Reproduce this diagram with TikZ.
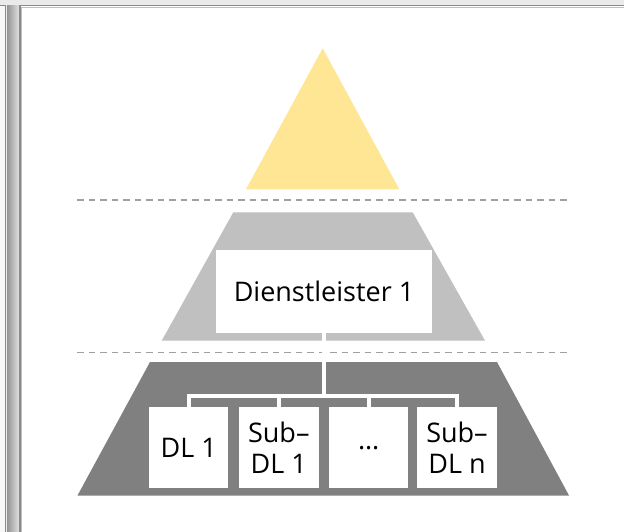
\documentclass[tikz,border=0pt]{standalone}
\usepackage{fontspec}
\setmainfont{Open Sans}
\usetikzlibrary{calc}

\definecolor{topyellow}{HTML}{FEE694}
\definecolor{midgray}{HTML}{C0C0C0}
\definecolor{lowgray}{HTML}{808080}
\definecolor{guidegray}{HTML}{A0A0A0}
\definecolor{framegray}{HTML}{8A8A8A}
\definecolor{chromegray}{HTML}{EAEAEA}

\tikzset{
  levelbox/.style={fill=white, draw=none, inner sep=0pt, align=center,
    font=\fontsize{27}{30.7}\selectfont},
  guideline/.style={draw=guidegray, line width=1.5pt, dash pattern=on 6.5pt off 5pt},
  link/.style={draw=white, line width=4pt},
}

\begin{document}
\begin{tikzpicture}[x=1pt, y=-1pt]
  \useasboundingbox (0,0) rectangle (624,532);

  % window chrome
  \fill[chromegray] (0,0) rectangle (624,532);
  \fill[white!97!black] (0,6) rectangle (6,532);
  \shade[left color=black!42, right color=black!12] (7,6) rectangle (19,532);
  \fill[white] (20,6) rectangle (624,532);
  \draw[framegray, line width=1.3pt] (5.5,532) -- (5.5,5.5) -- (0,5.5);
  \draw[framegray, line width=1.6pt] (19.8,532) -- (19.8,5.6) -- (624,5.6);
  \draw[black!25, line width=0.6pt] (21.2,532) -- (21.2,6.9) -- (624,6.9);

  % pyramid levels
  \fill[topyellow] (322.7,48.3) -- (399.3,189.3) -- (246,189.3) -- cycle;
  \fill[midgray] (233.3,212.3) -- (412.7,212.3) -- (485,340.7) -- (161.7,340.7) -- cycle;
  \fill[lowgray] (150,362) -- (497,362) -- (569,495.5) -- (77.5,495.5) -- cycle;

  % level separators
  \path[guideline] (77,200) -- (568,200);
  \path[guideline] (77,352.5) -- (568,352.5);

  % boxes
  \node[levelbox, minimum width=216pt, minimum height=82.7pt] (dl) at (324,291.3) {Dienstleister 1};
  \node[levelbox, minimum width=79.5pt, minimum height=81pt] (b1) at (188.7,447.8) {DL 1};
  \node[levelbox, minimum width=79.5pt, minimum height=81pt] (b2) at (278.8,447.8) {Sub–\\DL 1};
  \node[levelbox, minimum width=79.5pt, minimum height=81pt] (b3) at (368.7,447.8) {…};
  \node[levelbox, minimum width=79.5pt, minimum height=81pt] (b4) at (457,447.8) {Sub–\\DL n};

  % connectors
  \coordinate (bus) at (323,395.7);
  \path[link] (dl.south) -- (dl.south |- bus);
  \path[link, line join=miter] (b1.north) -- (b1.north |- bus) -- (b4.north |- bus) -- (b4.north);
  \path[link] (b2.north) -- (b2.north |- bus);
  \path[link] (b3.north) -- (b3.north |- bus);
\end{tikzpicture}
\end{document}
